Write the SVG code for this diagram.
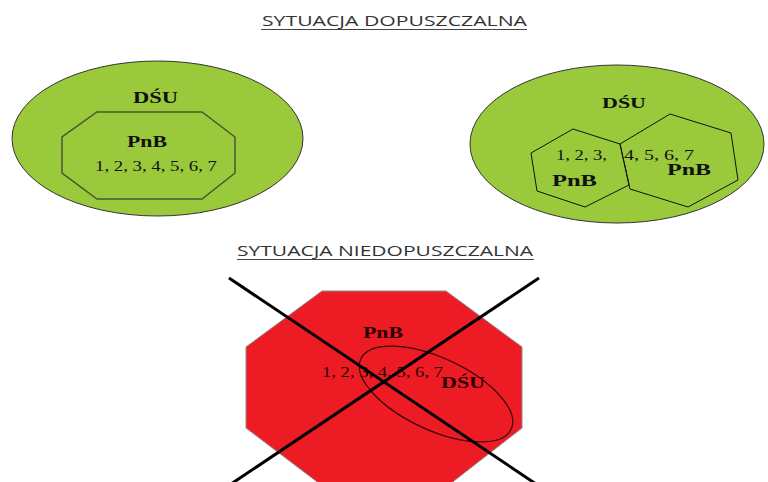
<svg xmlns="http://www.w3.org/2000/svg" width="768" height="482" viewBox="0 0 768 482">
<style>
.title{font-family:"Open Sans","Liberation Sans",sans-serif;font-size:14px;fill:#333;}
.ul{stroke:#444;stroke-width:1.2;}
.lbl{font-family:"Liberation Serif","DejaVu Serif",serif;font-weight:bold;fill:#111;}
.num{font-family:"Liberation Serif","DejaVu Serif",serif;fill:#111;}
.green{fill:#9aca3c;stroke:#333;stroke-width:1;}
.redt{fill:#2a0000;}
</style>
<rect width="768" height="482" fill="#fff"/>
<g id="title-ok">
<text class="title" x="262" y="26" textLength="265" lengthAdjust="spacingAndGlyphs">SYTUACJA DOPUSZCZALNA</text>
<line class="ul" x1="261" y1="29.5" x2="527" y2="29.5"/>
</g>
<g id="left-dsu">
<ellipse class="green" cx="157.5" cy="138.5" rx="145.5" ry="77.5"/>
<text class="lbl" x="155.5" y="103" font-size="16.5" text-anchor="middle" textLength="45" lengthAdjust="spacingAndGlyphs">DŚU</text>
</g>
<g id="left-pnb">
<polygon points="97,112 202,112 235,137 235,173 202,199 97,199 62,173 62,137" fill="none" stroke="#4a5530" stroke-width="1.5"/>
<text class="lbl" x="147" y="147" font-size="17" text-anchor="middle" textLength="40" lengthAdjust="spacingAndGlyphs">PnB</text>
<text class="num" x="95" y="171" font-size="15" textLength="122" lengthAdjust="spacingAndGlyphs">1, 2, 3, 4, 5, 6, 7</text>
</g>
<g id="right-dsu">
<ellipse class="green" cx="617" cy="144" rx="147" ry="79"/>
<text class="lbl" x="624" y="108" font-size="14.5" text-anchor="middle" textLength="44" lengthAdjust="spacingAndGlyphs">DŚU</text>
</g>
<g id="right-pnb-1">
<polygon points="573,129 620,144 629,185 585,207 537,191 531,153" fill="none" stroke="#111" stroke-width="1"/>
<text class="num" x="556" y="159.5" font-size="15" textLength="51" lengthAdjust="spacingAndGlyphs">1, 2, 3,</text>
<text class="lbl" x="552" y="186" font-size="17.5" textLength="45" lengthAdjust="spacingAndGlyphs">PnB</text>
</g>
<g id="right-pnb-2">
<polygon points="670,114 731,133 738,180 688,207 630,189 620,144" fill="none" stroke="#111" stroke-width="1"/>
<text class="num" x="624" y="159.5" font-size="15" textLength="70" lengthAdjust="spacingAndGlyphs">4, 5, 6, 7</text>
<text class="lbl" x="667" y="175" font-size="17" textLength="44" lengthAdjust="spacingAndGlyphs">PnB</text>
</g>
<g id="title-bad">
<text class="title" x="237" y="256" textLength="296" lengthAdjust="spacingAndGlyphs">SYTUACJA NIEDOPUSZCZALNA</text>
<line class="ul" x1="237" y1="259.5" x2="534" y2="259.5"/>
</g>
<g id="bad-pnb">
<polygon points="322,291 446,291 522,347 522,428 450,484 320,484 246,428 246,347" fill="#ed1c24" stroke="#8a8a8a" stroke-width="1"/>
<text class="lbl redt" x="383" y="338" font-size="16" text-anchor="middle" textLength="40" lengthAdjust="spacingAndGlyphs">PnB</text>
<text class="num redt" x="322" y="377" font-size="15" textLength="121" lengthAdjust="spacingAndGlyphs">1, 2, 3, 4, 5, 6, 7</text>
</g>
<g id="bad-dsu">
<ellipse cx="436" cy="394" rx="83" ry="36" transform="rotate(25 436 394)" fill="none" stroke="#3a0505" stroke-width="1.2"/>
<text class="lbl redt" x="441" y="388" font-size="16" textLength="44" lengthAdjust="spacingAndGlyphs">DŚU</text>
</g>
<g id="connectors">
<line x1="229" y1="278" x2="536" y2="484" stroke="#000" stroke-width="3"/>
<line x1="539" y1="278" x2="231" y2="484" stroke="#000" stroke-width="3"/>
</g>
</svg>
